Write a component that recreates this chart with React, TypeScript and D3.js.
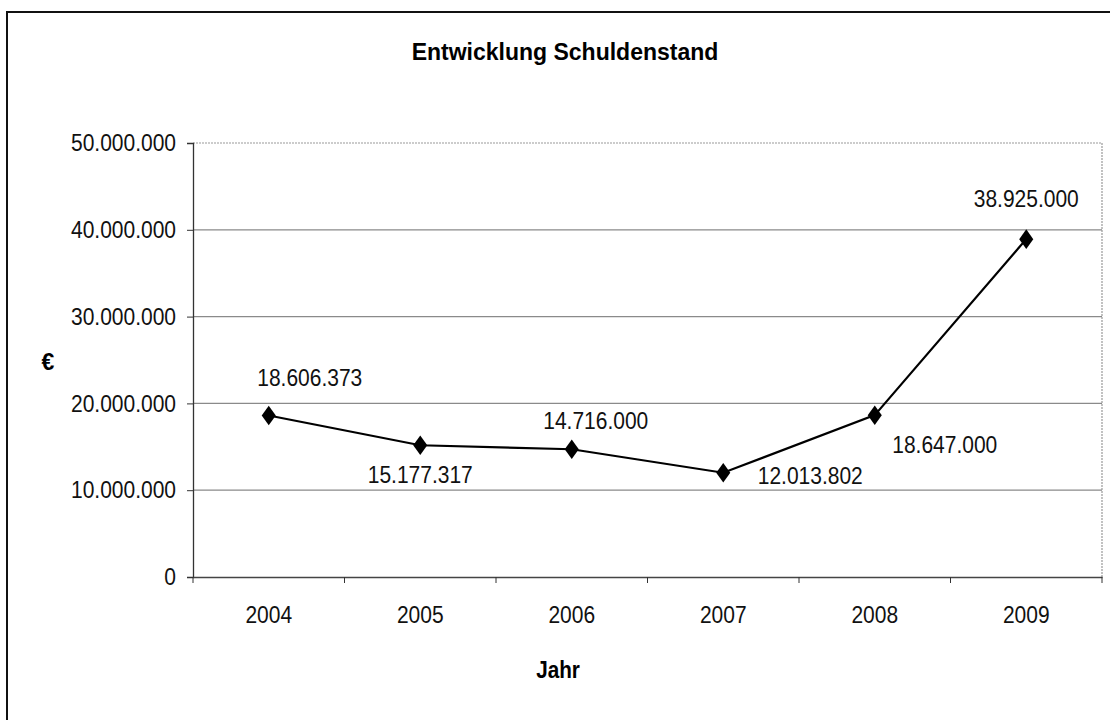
import React, { useEffect, useRef } from 'react';
import * as d3 from 'd3';

const years = ['2004', '2005', '2006', '2007', '2008', '2009'];
const debt = [18606373, 15177317, 14716000, 12013802, 18647000, 38925000];
const yTicks = [0, 10000000, 20000000, 30000000, 40000000, 50000000];
// label offset from the marker (dx, dy) as placed in the original
const labelOffsets: [number, number][] = [
  [41, -37], [0, 30], [24, -28], [87, 3], [70, 30], [0, -40],
];

const fmt = (v: number) => d3.format(',')(v).replace(/,/g, '.');

// squeeze text horizontally around its anchor (the scan's font is tall and narrow)
const condense = (sel: d3.Selection<any, any, any, any>, sx: number) => {
  sel.each(function () {
    const t = d3.select(this);
    const ax = +(t.attr('x') || 0);
    t.attr('transform', `translate(${ax},0) scale(${sx},1) translate(${-ax},0)`);
  });
};

const App = () => {
  const ref = useRef<SVGSVGElement>(null);

  useEffect(() => {
    const width = 1110, height = 720;
    const margin = { top: 143, right: 8, bottom: 143, left: 193 };
    const svg = d3.select(ref.current);
    svg.selectAll('*').remove();
    svg.attr('width', width).attr('height', height);

    const font = "'Liberation Sans', Arial, sans-serif";

    // outer chart frame (runs off the picture on the right and bottom)
    svg.append('rect')
      .attr('x', 7).attr('y', 12)
      .attr('width', 1200).attr('height', 800)
      .attr('fill', 'white')
      .attr('stroke', '#111').attr('stroke-width', 2);

    const x = d3.scaleBand()
      .domain(years)
      .range([margin.left, width - margin.right]);
    const y = d3.scaleLinear()
      .domain([0, 50000000])
      .range([height - margin.bottom, margin.top]);

    const x0 = margin.left, x1 = width - margin.right;
    const y0 = height - margin.bottom, y1 = margin.top;

    // gridlines
    svg.append('g')
      .selectAll('line')
      .data(yTicks.filter(t => t > 0 && t < 50000000))
      .enter()
      .append('line')
      .attr('x1', x0).attr('x2', x1)
      .attr('y1', d => y(d)).attr('y2', d => y(d))
      .attr('stroke', '#8a8a8a').attr('stroke-width', 1.2);

    // plot area border (top + right), dotted grey
    svg.append('path')
      .attr('d', `M${x0},${y1}H${x1}V${y0}`)
      .attr('fill', 'none')
      .attr('stroke', '#999').attr('stroke-width', 1.2)
      .attr('stroke-dasharray', '2,1');

    // y axis
    const yAxis = svg.append('g')
      .attr('transform', `translate(${x0},0)`)
      .call(d3.axisLeft(y).tickValues(yTicks).tickSize(6).tickPadding(11).tickFormat(d => fmt(+d)));
    yAxis.select('.domain').attr('stroke', '#333').attr('stroke-width', 1.3);
    yAxis.selectAll('.tick line').attr('stroke', '#333');
    yAxis.selectAll('text')
      .style('font-family', font).style('font-size', '24px').attr('fill', '#111');
    condense(yAxis.selectAll('text'), 0.875);

    // x axis with ticks between categories
    const xAxis = svg.append('g')
      .attr('transform', `translate(0,${y0})`)
      .call(d3.axisBottom(x).tickSize(0).tickPadding(29));
    xAxis.select('.domain').attr('stroke', '#444').attr('stroke-width', 1.3);
    xAxis.selectAll('text')
      .style('font-family', font).style('font-size', '24px').attr('fill', '#111');
    condense(xAxis.selectAll('text'), 0.875);
    xAxis.selectAll('line.sep')
      .data(years.concat(['end']))
      .enter()
      .append('line')
      .attr('class', 'sep')
      .attr('x1', (d, i) => (i < years.length ? (x(d) as number) : x1))
      .attr('x2', (d, i) => (i < years.length ? (x(d) as number) : x1))
      .attr('y1', 0).attr('y2', 6)
      .attr('stroke', '#333');

    const cx = (d: string) => (x(d) as number) + x.bandwidth() / 2;

    // line
    const line = d3.line<number>()
      .x((d, i) => cx(years[i]))
      .y(d => y(d));
    svg.append('path')
      .datum(debt)
      .attr('d', line)
      .attr('fill', 'none')
      .attr('stroke', '#000').attr('stroke-width', 2.2);

    // diamond markers
    const sym = d3.symbol().type(d3.symbolDiamond).size(110);
    svg.append('g')
      .selectAll('path')
      .data(debt)
      .enter()
      .append('path')
      .attr('d', sym)
      .attr('transform', (d, i) => `translate(${cx(years[i])},${y(d)}) scale(1.25,1)`)
      .attr('fill', '#000');

    // data labels
    const labels = svg.append('g')
      .selectAll('text')
      .data(debt)
      .enter()
      .append('text')
      .attr('x', (d, i) => cx(years[i]) + labelOffsets[i][0])
      .attr('y', (d, i) => y(d) + labelOffsets[i][1])
      .attr('text-anchor', 'middle')
      .attr('dominant-baseline', 'central')
      .style('font-family', font).style('font-size', '24px')
      .attr('fill', '#111')
      .text(d => fmt(d));
    condense(labels, 0.875);

    // title and axis titles
    svg.append('text')
      .attr('x', 565).attr('y', 52)
      .attr('text-anchor', 'middle').attr('dominant-baseline', 'central')
      .style('font-family', font).style('font-size', '23px').style('font-weight', 'bold')
      .text('Entwicklung Schuldenstand');
    svg.append('text')
      .attr('x', 48).attr('y', 362)
      .attr('text-anchor', 'middle').attr('dominant-baseline', 'central')
      .style('font-family', font).style('font-size', '23px').style('font-weight', 'bold')
      .text('€');
    const jahr = svg.append('text')
      .attr('x', 558).attr('y', 670)
      .attr('text-anchor', 'middle').attr('dominant-baseline', 'central')
      .style('font-family', font).style('font-size', '23px').style('font-weight', 'bold')
      .text('Jahr');
    condense(jahr, 0.9);
  }, []);

  return <svg ref={ref} style={{ position: 'absolute', left: 0, top: 0, background: 'white' }}></svg>;
};

export default App;
